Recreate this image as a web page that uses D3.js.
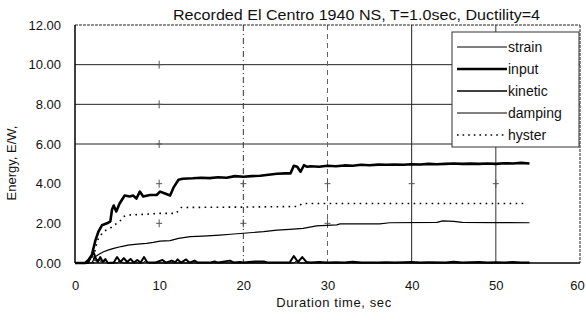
<!DOCTYPE html>
<html><head><meta charset="utf-8">
<script src="https://cdn.jsdelivr.net/npm/d3@7"></script>
<style>
body{margin:0;background:#fff;}
svg{display:block;font-family:"Liberation Sans",Arial,Helvetica,sans-serif;}
</style></head>
<body><svg id="c" width="586" height="322"></svg>
<script>
const title = "Recorded El Centro 1940 NS, T=1.0sec, Ductility=4";
const xTicks = [0,10,20,30,40,50,60];
const yTicks = [0,2,4,6,8,10,12];

const inputT = [0,1.2,1.6,2.0,2.4,2.8,3.2,3.8,4.2,4.4,4.6,4.9,5.3,5.9,6.5,6.9,7.3,7.7,8.1,8.9,9.7,10.1,10.7,11.3,11.7,12.3,12.8,14,15,16,17,18,19,20,21,22,23,24,25,25.6,26.0,26.4,26.8,27.2,27.6,28,29,30,31,32,33,34,35,36,37,38,39,40,41,42,43,44,45,46,47,48,49,50,51,52,53,54];
const inputE = [0,0,0.15,0.4,1.1,1.6,1.9,2.0,2.1,2.7,2.9,2.6,3.0,3.4,3.35,3.4,3.25,3.6,3.35,3.43,3.43,3.6,3.5,3.4,3.8,4.2,4.25,4.27,4.3,4.28,4.32,4.3,4.38,4.35,4.38,4.4,4.45,4.5,4.52,4.52,4.9,4.85,4.6,4.93,4.85,4.88,4.85,4.9,4.88,4.92,4.9,4.95,4.93,4.96,4.95,4.97,4.95,4.98,4.97,5.0,4.98,5.0,5.02,5.0,5.01,5.0,5.02,5.0,5.03,5.02,5.05,5.02];

const kineticT = [0,1.5,1.9,2.2,2.5,2.7,3.0,3.3,3.6,3.9,4.6,5.0,5.4,5.8,6.2,6.6,7.0,7.4,7.8,8.2,8.6,9.5,10.4,10.8,11.5,11.9,12.2,12.6,13.2,13.6,14.2,14.6,16,16.6,17,18.4,18.9,19.6,20,21,21.5,22.5,23,25.5,26.0,26.5,27.0,27.5,28,29,30,31,32,33,34,36,37,38,40,41,42,44,45,46,48,49,50,51,52,53,54];
const kineticE = [0,0,0.3,0.55,0.2,0.05,0.3,0.05,0.2,0,0.02,0.3,0.05,0.25,0.05,0.2,0.02,0.15,0.02,0.3,0.02,0.02,0.15,0.02,0.12,0.03,0.18,0.02,0.18,0.02,0.12,0.02,0.02,0.08,0.02,0.12,0.02,0.05,0.02,0.06,0.08,0.07,0.02,0.02,0.35,0.05,0.3,0.05,0.02,0.05,0.02,0.04,0.02,0.06,0.02,0.02,0.04,0.02,0.05,0.02,0.04,0.02,0.06,0.02,0.05,0.02,0.04,0.02,0.05,0.03,0.02];

const strainT = [0,1.6,2.0,2.4,2.8,3.2,3.6,4.0,5.0,5.3,5.7,8.0,8.4,8.8,26.0,26.3,26.7,54];
const strainE = [0,0,0.35,0.1,0.2,0.02,0.12,0,0,0.12,0,0,0.1,0,0,0.1,0,0];

const dampingT = [0,2.0,2.4,3.0,3.4,4.0,4.6,5.5,6.3,7.4,8.5,9.3,10.1,11.3,12.3,13.7,15.2,17.2,18.5,20,22.4,24,25.5,27.1,28.7,31.1,31.5,36.2,37.4,43.0,43.7,45,46,50,54];
const dampingE = [0,0,0.32,0.48,0.57,0.66,0.74,0.83,0.9,0.95,0.99,1.04,1.1,1.13,1.24,1.33,1.36,1.41,1.45,1.5,1.58,1.66,1.7,1.75,1.87,1.92,1.97,1.97,2.03,2.05,2.12,2.1,2.05,2.04,2.03];

const hysterT = [0,2.2,2.4,2.8,3.4,4.2,4.6,5.3,5.7,6.3,8,10,12,12.6,20,26.5,27,53.5];
const hysterE = [0,0,0.74,1.25,1.6,1.75,1.9,2.08,2.33,2.42,2.45,2.5,2.5,2.8,2.82,2.85,3.0,3.0];

const seriesNames = ["strain","input","kinetic","damping","hyster"];

const svg = d3.select("#c");
const L=75, R=580, T=25, B=263;
const x = d3.scaleLinear().domain([0,60]).range([L,R]);
const y = d3.scaleLinear().domain([0,12]).range([B,T]);

// grid
const g = svg.append("g");
[6,8,10].forEach(v=>g.append("line").attr("x1",L).attr("x2",R).attr("y1",y(v)).attr("y2",y(v)).attr("stroke","#222").attr("stroke-width",1));
const vg = [{v:20,d:"6,3,1,3",c:"#333"},{v:30,d:"5,4",c:"#666"},{v:40,d:null,c:"#222"},{v:50,d:null,c:"#333"}];
vg.forEach(o=>{const l=g.append("line").attr("x1",x(o.v)).attr("x2",x(o.v)).attr("y1",T).attr("y2",B).attr("stroke",o.c).attr("stroke-width",1);if(o.d)l.attr("stroke-dasharray",o.d);});
const crosses = [[10,2],[10,4],[10,6],[10,8],[10,10],[20,2],[20,4],[30,2],[30,4],[40,4],[50,4]];
crosses.forEach(([a,b])=>{
  g.append("line").attr("x1",x(a)-3).attr("x2",x(a)+3).attr("y1",y(b)).attr("y2",y(b)).attr("stroke","#555");
  g.append("line").attr("x1",x(a)).attr("x2",x(a)).attr("y1",y(b)-4).attr("y2",y(b)+4).attr("stroke","#555");
});

// frame
svg.append("line").attr("x1",L).attr("x2",R).attr("y1",T).attr("y2",T).attr("stroke","#222").attr("stroke-dasharray","3,1");
svg.append("line").attr("x1",R).attr("x2",R).attr("y1",T).attr("y2",B).attr("stroke","#222").attr("stroke-dasharray","3,1");
svg.append("line").attr("x1",L).attr("x2",L).attr("y1",T).attr("y2",B).attr("stroke","#000").attr("stroke-width",1.5);
svg.append("line").attr("x1",L).attr("x2",R).attr("y1",B).attr("y2",B).attr("stroke","#000").attr("stroke-width",1.5);

// axes
const xa = svg.append("g").attr("transform",`translate(0,${B})`)
  .call(d3.axisBottom(x).tickValues(xTicks).tickFormat(d3.format("d")).tickSize(0).tickPadding(18));
const ya = svg.append("g").attr("transform",`translate(${L},0)`)
  .call(d3.axisLeft(y).tickValues(yTicks).tickFormat(d3.format(".2f")).tickSize(0).tickPadding(14));
[xa,ya].forEach(a=>{a.select(".domain").remove();a.selectAll("text").attr("font-size",13).attr("fill","#111").attr("font-family","Liberation Sans, Arial, sans-serif");});
xa.selectAll(".tick text").filter(d=>d===60).attr("dx",-3);

// lines
const line = d3.line().x(d=>x(d[0])).y(d=>y(d[1]));
const zip = (a,b)=>a.map((t,i)=>[t,b[i]]);
const styles = {
  strain:{w:1,d:null},
  input:{w:2.6,d:null},
  kinetic:{w:2,d:null},
  damping:{w:1.2,d:null},
  hyster:{w:1.6,d:"1.6,4.4"}
};
const data = {
  strain:zip(strainT,strainE),
  input:zip(inputT,inputE),
  kinetic:zip(kineticT,kineticE),
  damping:zip(dampingT,dampingE),
  hyster:zip(hysterT,hysterE)
};
["damping","hyster","strain","kinetic","input"].forEach(k=>{
  const p = svg.append("path").attr("d",line(data[k])).attr("fill","none").attr("stroke","#000")
    .attr("stroke-width",styles[k].w).attr("stroke-linejoin","round");
  if(styles[k].d) p.attr("stroke-dasharray",styles[k].d);
});

// legend
const lg = svg.append("g");
lg.append("rect").attr("x",452).attr("y",32).attr("width",127).attr("height",115).attr("fill","#fff").attr("stroke","#333").attr("stroke-width",1);
const rowY = [47,69,91,113,135];
seriesNames.forEach((k,i)=>{
  const l = lg.append("line").attr("x1",457).attr("x2",507).attr("y1",rowY[i]).attr("y2",rowY[i]).attr("stroke","#000").attr("stroke-width",styles[k].w===2.6?2.4:(k==="kinetic"?1.5:1));
  if(styles[k].d) l.attr("stroke-dasharray","1.6,4").attr("stroke-width",1.6);
  lg.append("text").attr("x",508).attr("y",rowY[i]).attr("dy","0.35em").attr("font-size",14).attr("fill","#111").text(k);
});

// titles
svg.append("text").attr("x",173).attr("y",20).attr("font-size",14).attr("fill","#111")
  .attr("textLength",367).attr("lengthAdjust","spacingAndGlyphs").text(title);
svg.append("text").attr("transform","translate(16,163) rotate(-90)").attr("text-anchor","middle")
  .attr("font-size",13).attr("fill","#111").text("Energy, E/W,");
svg.append("text").attr("x",334).attr("y",307).attr("text-anchor","middle").attr("font-size",13)
  .attr("letter-spacing","0.6").attr("fill","#111").text("Duration time, sec");
</script></body></html>
